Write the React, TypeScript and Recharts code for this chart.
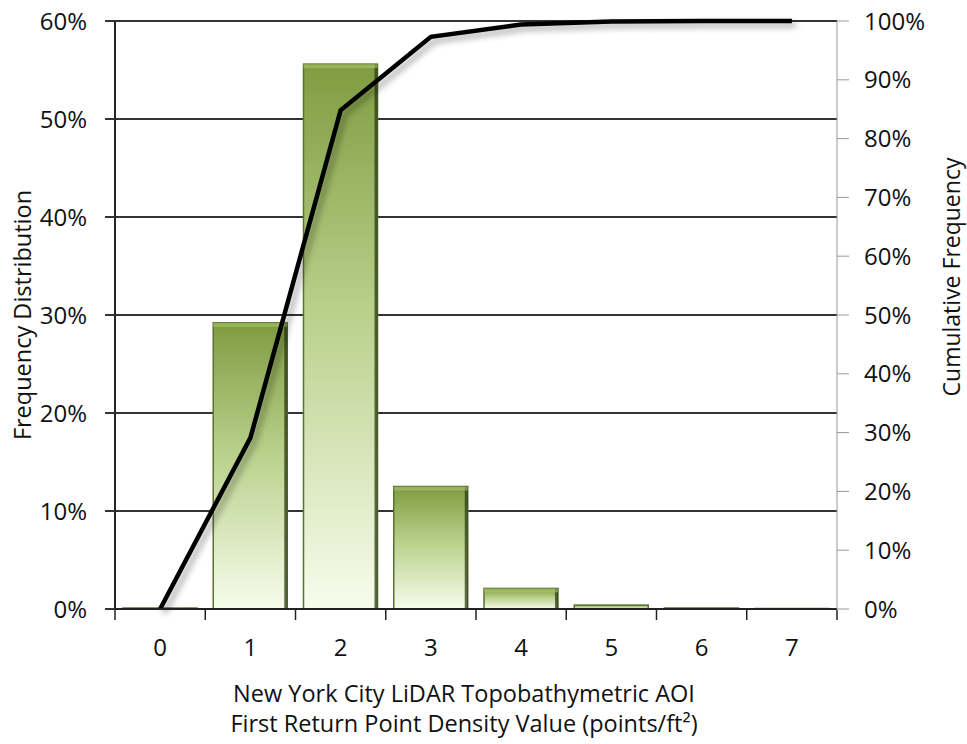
import { ComposedChart, Bar, Line, XAxis, YAxis, CartesianGrid } from "recharts";

const categories = ["0", "1", "2", "3", "4", "5", "6", "7"];
const frequency = [0.1, 29.2, 55.6, 12.5, 2.1, 0.4, 0.1, 0.05];
const cumulative = [0, 29.1, 84.8, 97.3, 99.4, 99.9, 100, 100];
const leftTicks = [0, 10, 20, 30, 40, 50, 60];
const rightTicks = [0, 10, 20, 30, 40, 50, 60, 70, 80, 90, 100];
const edgeTicks = [0, 1, 2, 3, 4, 5, 6, 7, 8];

const data = categories.map((c, i) => ({ name: c, pos: i + 0.5, freq: frequency[i], cum: cumulative[i] }));

const FONT = "'Open Sans', sans-serif";
const pct = (v: number) => `${v}%`;

function BevelBar(props: any) {
  const { x, y, width, height } = props;
  if (!height || height <= 0) return null;
  const edge = Math.min(3, width / 8);
  return (
    <g>
      <rect x={x} y={y} width={width} height={height} fill="url(#barGrad)" stroke="#5b7130" strokeWidth={1.5} />
      {height > 6 && (
        <>
          <rect x={x + width - edge} y={y} width={edge} height={height} fill="#2e3a14" opacity={0.75} />
          <rect x={x} y={y} width={width} height={Math.min(4, height / 3)} fill="#a8c46a" opacity={0.6} />
        </>
      )}
    </g>
  );
}

function LeftTitle({ viewBox }: any) {
  const cx = viewBox.x + 22;
  const cy = viewBox.y + viewBox.height / 2;
  return (
    <text x={cx} y={cy} transform={`rotate(-90 ${cx} ${cy})`} textAnchor="middle" dominantBaseline="central" fontFamily={FONT} fontSize={23.5} fill="#111">
      Frequency Distribution
    </text>
  );
}

function RightTitle({ viewBox }: any) {
  const cx = viewBox.x + 114;
  const cy = viewBox.y + viewBox.height / 2 - 38;
  return (
    <text x={cx} y={cy} transform={`rotate(-90 ${cx} ${cy})`} textAnchor="middle" dominantBaseline="central" fontFamily={FONT} fontSize={23} fill="#111">
      Cumulative Frequency
    </text>
  );
}

function BottomTitle({ viewBox }: any) {
  const cx = viewBox.x + viewBox.width / 2 - 12;
  return (
    <text textAnchor="middle" fontFamily={FONT} fontSize={23.5} fill="#111">
      <tspan x={cx} y={viewBox.y + 92}>New York City LiDAR Topobathymetric AOI</tspan>
      <tspan x={cx} y={viewBox.y + 122}>First Return Point Density Value (points/ft²)</tspan>
    </text>
  );
}

export default function App() {
  return (
    <div style={{ position: "absolute", left: 0, top: 0, background: "#fff" }}>
      <ComposedChart
        width={967}
        height={744}
        data={data}
        margin={{ top: 21, right: 0, bottom: 0, left: 0 }}
        barCategoryGap={8}
      >
        <defs>
          <linearGradient id="barGrad" x1="0" y1="0" x2="0" y2="1">
            <stop offset="0%" stopColor="#7f9c41" />
            <stop offset="45%" stopColor="#b8d08a" />
            <stop offset="100%" stopColor="#f7fcec" />
          </linearGradient>
          <filter id="lineShadow" x="-10%" y="-10%" width="130%" height="130%">
            <feDropShadow dx="4" dy="4" stdDeviation="3" floodColor="#000" floodOpacity="0.35" />
          </filter>
        </defs>
        <CartesianGrid vertical={false} stroke="#333" strokeWidth={2} />
        <XAxis
          dataKey="name"
          height={1}
          tickLine={false}
          tickSize={10}
          tickMargin={20}
          axisLine={{ stroke: "#222", strokeWidth: 2 }}
          tick={{ fontFamily: FONT, fontSize: 24, fill: "#111" }}
        />
        <XAxis
          xAxisId="edges"
          dataKey="pos"
          type="number"
          domain={[0, 8]}
          ticks={edgeTicks}
          interval={0}
          tickFormatter={() => ""}
          tickSize={10}
          axisLine={false}
          tickLine={{ stroke: "#222", strokeWidth: 1.5 }}
          height={134}
          label={<BottomTitle />}
        />
        <YAxis
          width={115}
          domain={[0, 60]}
          ticks={leftTicks}
          tickFormatter={pct}
          tickSize={10}
          tickMargin={18}
          axisLine={{ stroke: "#222", strokeWidth: 2 }}
          tickLine={{ stroke: "#333", strokeWidth: 2 }}
          tick={{ fontFamily: FONT, fontSize: 24, fill: "#111" }}
          label={<LeftTitle />}
        />
        <YAxis
          yAxisId="right"
          orientation="right"
          width={130}
          domain={[0, 100]}
          ticks={rightTicks}
          tickFormatter={pct}
          tickSize={12}
          tickMargin={15}
          axisLine={{ stroke: "#999" }}
          tickLine={{ stroke: "#999" }}
          tick={{ fontFamily: FONT, fontSize: 24, fill: "#111", textAnchor: "start" }}
          label={<RightTitle />}
        />
        <Bar dataKey="freq" shape={<BevelBar />} isAnimationActive={false} />
        <Line
          xAxisId="edges"
          yAxisId="right"
          dataKey="cum"
          stroke="none"
          dot={false}
          legendType="none"
          isAnimationActive={false}
        />
        <Line
          yAxisId="right"
          dataKey="cum"
          stroke="#000"
          strokeWidth={4.5}
          dot={false}
          type="linear"
          filter="url(#lineShadow)"
          isAnimationActive={false}
        />
      </ComposedChart>
    </div>
  );
}
